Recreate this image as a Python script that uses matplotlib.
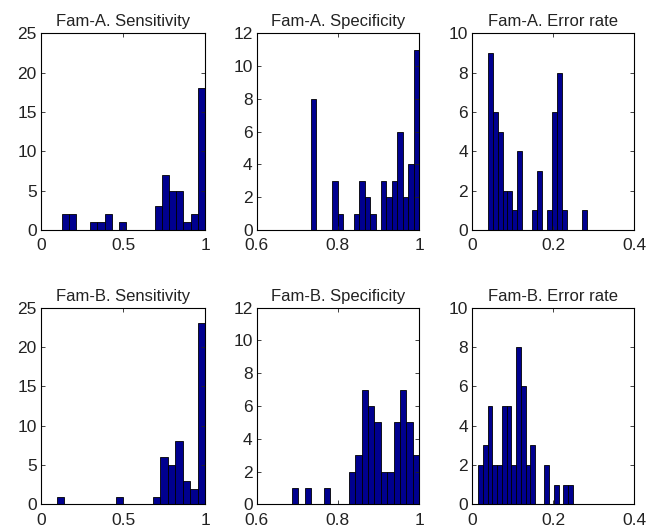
import numpy as np
import matplotlib.pyplot as plt

plt.rcParams['font.family'] = ['Liberation Sans', 'DejaVu Sans']

# histogram data: range of values (min, max) and counts in 20 equal bins
titles = ['Fam-A. Sensitivity', 'Fam-A. Specificity', 'Fam-A. Error rate',
          'Fam-B. Sensitivity', 'Fam-B. Specificity', 'Fam-B. Error rate']

ranges = [(0.125, 1.0), (0.733, 1.0), (0.038, 0.282),
          (0.0955, 1.0), (0.6866, 1.0), (0.0148, 0.248)]

counts_a_sens = [2, 2, 0, 0, 1, 1, 2, 0, 1, 0, 0, 0, 0, 3, 7, 5, 5, 1, 2, 18]
counts_a_spec = [8, 0, 0, 0, 3, 1, 0, 0, 1, 3, 2, 1, 0, 3, 2, 3, 6, 2, 4, 11]
counts_a_err = [9, 6, 5, 2, 2, 1, 4, 0, 0, 1, 3, 0, 1, 6, 8, 1, 0, 0, 0, 1]
counts_b_sens = [1, 0, 0, 0, 0, 0, 0, 0, 1, 0, 0, 0, 0, 1, 6, 5, 8, 3, 2, 23]
counts_b_spec = [1, 0, 1, 0, 0, 1, 0, 0, 0, 2, 3, 7, 6, 5, 2, 2, 5, 7, 5, 3]
counts_b_err = [2, 3, 5, 2, 2, 5, 5, 2, 8, 6, 2, 3, 0, 0, 2, 0, 1, 0, 1, 1]
counts = [counts_a_sens, counts_a_spec, counts_a_err,
          counts_b_sens, counts_b_spec, counts_b_err]

xlims = [(0, 1), (0.6, 1), (0, 0.4), (0, 1), (0.6, 1), (0, 0.4)]
xticks = [[0, 0.5, 1], [0.6, 0.8, 1], [0, 0.2, 0.4]] * 2
ylims = [25, 12, 10, 25, 12, 10]
ysteps = [5, 2, 2, 5, 2, 2]

W, H = 658, 527
fig = plt.figure(figsize=(W / 100, H / 100), dpi=100)

lefts = [41, 256.7, 472.3]
widths = [164, 162.3, 162]
tops = [33.3, 307.7]
height = 196.7

for i in range(6):
    r, c = divmod(i, 3)
    ax = fig.add_axes([lefts[c] / W, 1 - (tops[r] + height) / H,
                       widths[c] / W, height / H])
    lo, hi = ranges[i]
    edges = np.linspace(lo, hi, len(counts[i]) + 1)
    ax.bar(edges[:-1], counts[i], width=np.diff(edges), align='edge',
           color='#00008F', edgecolor='black', linewidth=0.6)
    ax.set_xlim(*xlims[i])
    ax.set_ylim(0, ylims[i])
    ax.set_xticks(xticks[i])
    ax.set_xticklabels(['%g' % t for t in xticks[i]])
    ax.set_yticks(np.arange(0, ylims[i] + 1, ysteps[i]))
    ax.tick_params(direction='in', top=True, right=True, length=3,
                   width=0.6, labelsize=12.5, colors='#222222')
    ax.tick_params(axis='x', pad=6)
    ax.tick_params(axis='y', pad=3)
    for s in ax.spines.values():
        s.set_linewidth(0.8)
    ax.set_title(titles[i], fontsize=12, pad=5, color='#222222')

fig.savefig('out.png', dpi=100)
